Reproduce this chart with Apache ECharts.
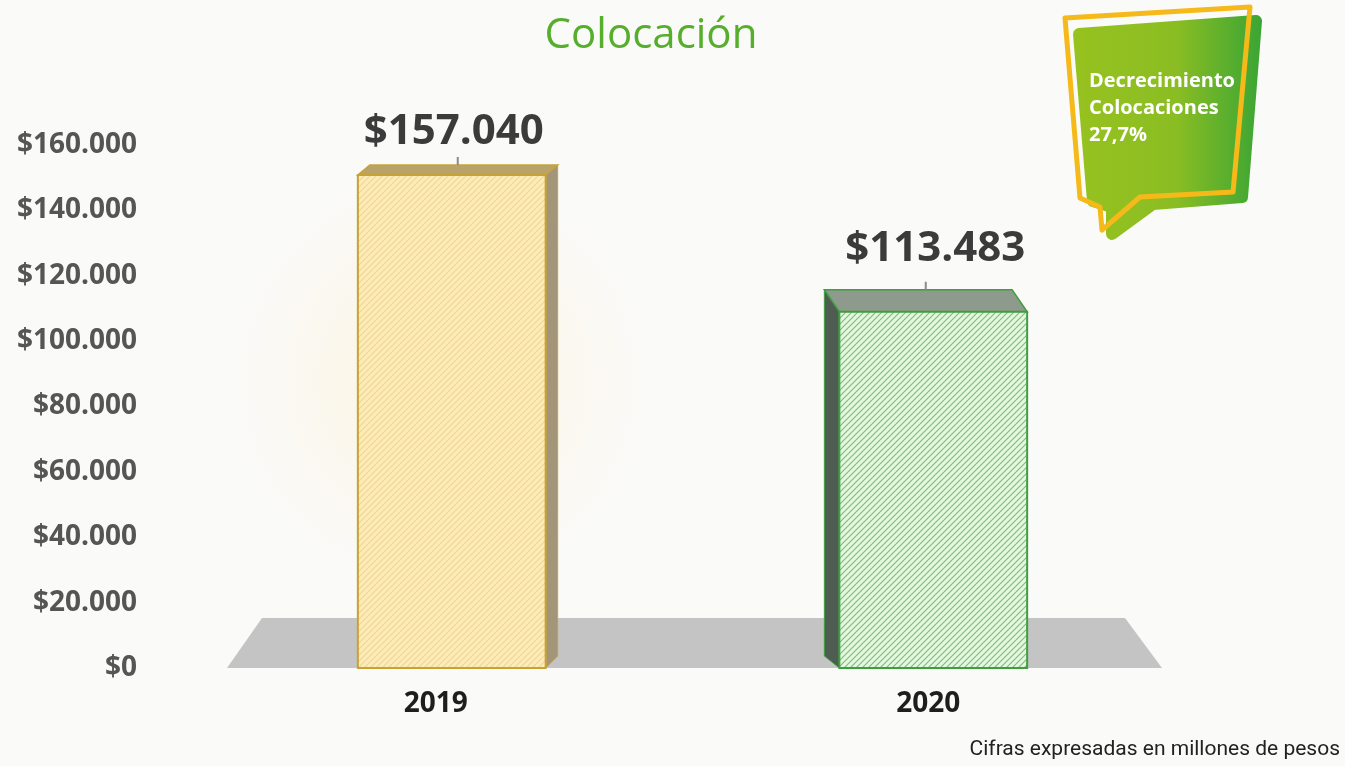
<!DOCTYPE html>
<html>
<head>
<meta charset="utf-8">
<script src="https://cdn.jsdelivr.net/npm/echarts@6/dist/echarts.min.js"></script>
<style>
  html, body { margin: 0; padding: 0; background: #fafaf8; }
  #main { width: 1345px; height: 766px; }
</style>
</head>
<body>
<div id="main"></div>
<script>
// datos del grafico
const categories = ['2019', '2020'];
const colocaciones = [157040, 113483];
const valueLabels = ['$157.040', '$113.483'];
const yTickLabels = ['$0', '$20.000', '$40.000', '$60.000', '$80.000', '$100.000', '$120.000', '$140.000', '$160.000'];

// look of each 3D box (front / top / side faces)
const boxStyles = [
  { base: '#fdecba', hatch: '#f3d48a', border: '#c9a235', top: '#b8a468', side: '#a3957a', dx: 12, dy: -10, labelGap: 18, labelShift: 32 },
  { base: '#e6f6e0', hatch: '#79c277', border: '#3f9f3f', top: '#8e9a8c', side: '#4f5c52', dx: -15, dy: -22, labelGap: 26, labelShift: 10 }
];

function hatchPattern(base, line) {
  const c = document.createElement('canvas');
  c.width = 6;
  c.height = 6;
  const ctx = c.getContext('2d');
  ctx.fillStyle = base;
  ctx.fillRect(0, 0, 6, 6);
  ctx.strokeStyle = line;
  ctx.lineWidth = 1.2;
  ctx.beginPath();
  ctx.moveTo(0, 6); ctx.lineTo(6, 0);
  ctx.moveTo(-3, 3); ctx.lineTo(3, -3);
  ctx.moveTo(3, 9); ctx.lineTo(9, 3);
  ctx.stroke();
  return { image: c, repeat: 'repeat' };
}

const chart = echarts.init(document.getElementById('main'));

function renderBox(params, api) {
  const idx = api.value(0);
  const st = boxStyles[idx];
  const base = api.coord([idx, 0]);
  const top = api.coord([idx, api.value(1)]);
  const w = api.size([1, 0])[0] * 0.39;
  const x0 = base[0] - w / 2;
  const x1 = base[0] + w / 2;
  const yB = base[1];
  const yT = top[1];
  const dx = st.dx, dy = st.dy;
  const sx = dx > 0 ? x1 : x0;
  const children = [
    {
      type: 'polygon',
      shape: { points: [[sx, yT], [sx + dx, yT + dy], [sx + dx, yB - 12], [sx, yB]] },
      style: { fill: st.side, stroke: st.border, lineWidth: 1 }
    },
    {
      type: 'polygon',
      shape: { points: [[x0, yT], [x1, yT], [x1 + dx, yT + dy], [x0 + dx, yT + dy]] },
      style: { fill: st.top, stroke: st.border, lineWidth: 1.5 }
    },
    {
      type: 'rect',
      shape: { x: x0, y: yT, width: x1 - x0, height: yB - yT },
      style: { fill: hatchPattern(st.base, st.hatch), stroke: st.border, lineWidth: 2 }
    },
    {
      type: 'line',
      shape: { x1: base[0] + dx / 2, y1: yT + dy, x2: base[0] + dx / 2, y2: yT + dy - 8 },
      style: { stroke: '#8a8a8a', lineWidth: 2 }
    },
    {
      type: 'text',
      style: {
        text: valueLabels[idx],
        x: base[0] + 2,
        y: yT + dy - st.labelGap + 6,
        align: 'center',
        verticalAlign: 'bottom',
        fontFamily: 'Open Sans',
        fontWeight: 'bold',
        fontSize: 42,
        fill: '#3b3b3b'
      }
    }
  ];
  return { type: 'group', children: children };
}

const option = {
  backgroundColor: '#fafaf8',
  animation: false,
  title: {
    text: 'Colocación',
    left: 646,
    textAlign: 'center',
    top: 10,
    textStyle: { color: '#56ae2c', fontSize: 42, fontWeight: 'normal', fontFamily: 'Open Sans' }
  },
  grid: { left: 211, right: 171, top: 145, bottom: 98 },
  xAxis: {
    type: 'category',
    data: categories.map((c, i) => ({ value: c, textStyle: { padding: [0, boxStyles[i].labelShift, 0, 0] } })),
    axisLine: { show: false },
    axisTick: { show: false },
    axisLabel: {
      margin: 22,
      fontSize: 28,
      fontWeight: 'bold',
      fontFamily: 'Open Sans',
      color: '#1e1e1e'
    }
  },
  yAxis: [
    {
      type: 'value',
      min: 0,
      max: 160000,
      interval: 20000,
      splitLine: { show: false },
      axisLine: { show: false },
      axisTick: { show: false },
      axisLabel: {
        margin: 74,
        fontSize: 28,
        fontWeight: 'bold',
        fontFamily: 'Open Sans',
        color: '#555555',
        formatter: (v) => yTickLabels[Math.round(v / 20000)]
      }
    },
    {
      // the 3D bars are drawn a little shorter than the label scale, as in the original
      type: 'value',
      min: 0,
      max: 166600,
      show: false,
      splitLine: { show: false }
    }
  ],
  graphic: [
    {
      type: 'rect',
      z: -2,
      shape: { x: 230, y: 90, width: 420, height: 580 },
      style: {
        fill: new echarts.graphic.RadialGradient(0.5, 0.5, 0.5, [
          { offset: 0, color: 'rgba(255,236,190,0.4)' },
          { offset: 1, color: 'rgba(255,236,190,0)' }
        ])
      }
    },
    {
      type: 'polygon',
      z: -1,
      shape: { points: [[262, 618], [1125, 618], [1162, 668], [227, 668]] },
      style: { fill: '#c4c4c4' }
    },
    {
      type: 'group',
      children: [
        {
          // rounded corners come from the thick round-joined stroke
          type: 'polygon',
          shape: {
            points: [[1079, 34], [1256, 21], [1242, 197], [1153, 204], [1112, 234], [1112, 207], [1093, 201]]
          },
          style: {
            fill: new echarts.graphic.LinearGradient(0, 0, 1, 0, [
              { offset: 0, color: '#97c21f' },
              { offset: 0.55, color: '#8abd23' },
              { offset: 1, color: '#3aa535' }
            ]),
            stroke: new echarts.graphic.LinearGradient(0, 0, 1, 0, [
              { offset: 0, color: '#97c21f' },
              { offset: 0.55, color: '#8abd23' },
              { offset: 1, color: '#3aa535' }
            ]),
            lineWidth: 12,
            lineJoin: 'round'
          }
        },
        {
          type: 'polygon',
          shape: {
            points: [[1065, 18], [1250, 7], [1233, 192], [1140, 197], [1102, 230], [1100, 207], [1080, 198]]
          },
          style: { fill: 'none', stroke: '#f6b91a', lineWidth: 5, lineJoin: 'round' }
        },
        {
          type: 'text',
          style: {
            text: 'Decrecimiento\nColocaciones\n27,7%',
            x: 1089,
            y: 68,
            fill: '#ffffff',
            fontFamily: 'Open Sans',
            fontWeight: 'bold',
            fontSize: 20,
            lineHeight: 27
          }
        }
      ]
    },
    {
      type: 'text',
      right: 5,
      top: 739,
      style: {
        text: 'Cifras expresadas en millones de pesos',
        fill: '#222222',
        fontFamily: 'Roboto',
        fontSize: 21
      }
    }
  ],
  series: [
    {
      type: 'custom',
      yAxisIndex: 1,
      renderItem: renderBox,
      data: colocaciones.map((v, i) => [i, v])
    }
  ]
};

chart.setOption(option);
</script>
</body>
</html>
